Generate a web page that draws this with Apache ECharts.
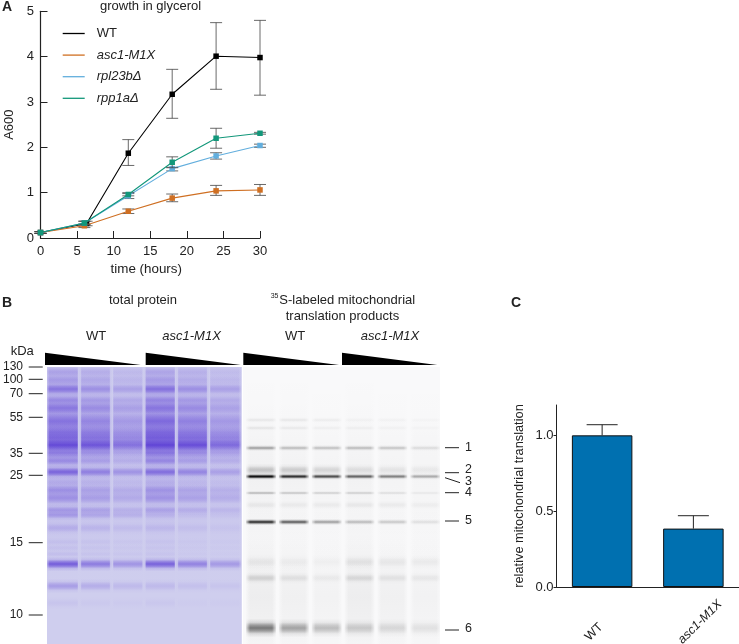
<!DOCTYPE html>
<html><head><meta charset="utf-8">
<style>html,body{margin:0;padding:0;background:#fff}#c{width:739px;height:644px}</style>
<script src="https://cdn.jsdelivr.net/npm/echarts@6/dist/echarts.min.js"></script></head>
<body><div id="c"></div>
<script>
// ---------- panel A data ----------
var hours = [0, 6, 12, 18, 24, 30];
var hoursWt = [0, 6.3, 12, 18, 24, 30];
var wt = [0.12, 0.32, 1.87, 3.17, 4.01, 3.98];
var wtLo = [0.10, 0.27, 1.60, 2.64, 3.28, 3.15];
var wtHi = [0.14, 0.37, 2.17, 3.72, 4.75, 4.80];
var asc = [0.12, 0.27, 0.59, 0.88, 1.04, 1.06];
var ascLo = [0.10, 0.23, 0.54, 0.80, 0.94, 0.94];
var ascHi = [0.14, 0.31, 0.64, 0.97, 1.16, 1.18];
var rpl = [0.12, 0.33, 0.93, 1.53, 1.81, 2.04];
var rplLo = [0.10, 0.29, 0.87, 1.48, 1.74, 2.00];
var rplHi = [0.14, 0.37, 0.98, 1.56, 1.88, 2.07];
var rpp = [0.12, 0.33, 0.96, 1.67, 2.20, 2.31];
var rppLo = [0.10, 0.29, 0.93, 1.55, 1.98, 2.29];
var rppHi = [0.14, 0.37, 1.00, 1.79, 2.42, 2.33];
// ---------- panel C data ----------
var barCats = ['WT', 'asc1-M1X'];
var barVals = [1.0, 0.385];
var barHi = [1.07, 0.47];
// ---------- gel data: migration = px from gel top ----------
var kdaLabels = ['130', '100', '70', '55', '35', '25', '15', '10'];
var kdaPos = [0, 12.3, 26.7, 50.3, 86.3, 108.3, 175.7, 248];
var lanes = ['WT1', 'WT2', 'WT3', 'M1', 'M2', 'M3'];
// total protein: migration, half thickness, strength by lane (first entries are lane smears)
var totPos = [55, 130, 5, 13, 22, 33, 41, 54, 65, 71, 78, 86, 94, 105, 115, 123, 131, 143, 148, 161, 175, 181, 187, 197, 219, 236];
var totHalf = [30, 40, 3.5, 3.5, 3.5, 3, 4, 5.5, 5, 5, 4.2, 4, 3, 3.2, 3, 3.5, 4, 2.5, 2.5, 3, 2, 2, 2, 3.2, 3.2, 3];
var totL1 = [.26, .10, .30, .35, .62, .38, .55, .55, .50, .58, .95, .50, .42, .75, .18, .40, .40, .35, .35, .20, .08, .08, .10, .82, .36, .07];
var totL2 = [.19, .08, .22, .25, .42, .28, .40, .42, .40, .50, .85, .35, .28, .55, .14, .28, .30, .28, .25, .15, .06, .06, .07, .60, .24, .04];
var totL3 = [.12, .06, .14, .16, .30, .20, .28, .30, .28, .35, .62, .22, .18, .40, .10, .20, .22, .18, .18, .10, .04, .04, .05, .42, .15, .03];
var totL4 = [.30, .09, .28, .34, .65, .40, .55, .62, .55, .68, 1.0, .55, .45, .68, .15, .38, .38, .28, .15, .12, .05, .05, .06, .78, .15, .05];
var totL5 = [.21, .07, .20, .22, .42, .28, .40, .45, .42, .55, .92, .38, .28, .50, .10, .26, .28, .20, .08, .08, .03, .03, .03, .55, .10, .02];
var totL6 = [.13, .05, .12, .14, .30, .18, .26, .30, .28, .38, .68, .25, .18, .30, .08, .18, .20, .14, .06, .05, .02, .02, .02, .38, .07, .02];
// radiolabel gel
var radPos = [110, 230, 53, 61, 81, 103, 109.5, 126, 138, 155, 195, 211, 261];
var radHalf = [55, 50, 1.5, 1.5, 1.6, 3.5, 1.7, 1.2, 2.5, 1.7, 4, 3.2, 5];
var radL1 = [.035, .05, .07, .08, .38, .22, 1, .26, .06, .90, .06, .15, .55];
var radL2 = [.03, .04, .07, .06, .26, .18, .85, .20, .05, .68, .04, .09, .36];
var radL3 = [.025, .03, .05, .04, .24, .14, .72, .16, .05, .38, .03, .05, .25];
var radL4 = [.03, .05, .03, .04, .26, .10, .62, .16, .06, .26, .08, .12, .19];
var radL5 = [.025, .04, .03, .03, .22, .08, .50, .10, .05, .20, .06, .08, .13];
var radL6 = [.02, .03, .02, .02, .12, .06, .32, .06, .04, .10, .05, .06, .09];
var radMarkLabels = ['1', '2', '3', '4', '5', '6'];
var radMarkPos = [81, 103, 115, 126, 154, 262];
var radTickPos = [80.7, 105.7, 125.7, 154, 263];

var fontName = '"Liberation Sans", Arial, sans-serif';
var ink = '#222';

function rows(pos, half, ls) {
  var out = [];
  ls.forEach(function (l, li) {
    pos.forEach(function (p, i) { out.push([li, p, half[i], l[i]]); });
  });
  return out;
}
function gelSeries(idx, data, rgb, laneW, spread) {
  return {
    type: 'custom', xAxisIndex: idx, yAxisIndex: idx, silent: true, clip: true, z: 2,
    data: data, encode: { x: 0, y: 1 },
    renderItem: function (params, api) {
      var c = api.coord([api.value(0), api.value(1)]);
      var sy = Math.abs(api.size([0, 1])[1]);
      var h = api.value(2) * sy;
      var a = Math.min(1, api.value(3));
      var col = function (al) { return 'rgba(' + rgb + ',' + al + ')'; };
      return {
        type: 'rect',
        shape: { x: c[0] - laneW / 2, y: c[1] - h * spread, width: laneW, height: h * spread * 2 },
        style: {
          fill: new echarts.graphic.LinearGradient(0, 0, 0, 1, [
            { offset: 0, color: col(0) }, { offset: .2, color: col(a * .2) }, { offset: .35, color: col(a * .7) },
            { offset: .5, color: col(a) }, { offset: .65, color: col(a * .7) }, { offset: .8, color: col(a * .2) },
            { offset: 1, color: col(0) }
          ])
        }
      };
    }
  };
}
function gutterSeries(idx, bg, laneW, f) {
  return {
    type: 'custom', xAxisIndex: idx, yAxisIndex: idx, silent: true, clip: true, z: 3,
    data: lanes.map(function (n, i) { return [i, 0]; }), encode: { x: 0 },
    renderItem: function (params, api) {
      var c = api.coord([api.value(0), 0]);
      var H = params.coordSys.height, T = params.coordSys.y;
      var g = function (x0, x1) { return new echarts.graphic.LinearGradient(x0, 0, x1, 0, [{ offset: 0, color: bg }, { offset: 1, color: bg.replace(',1)', ',0)') }]); };
      return { type: 'group', children: [
        { type: 'rect', shape: { x: c[0] - laneW / 2 - 1, y: T, width: f + 1, height: H }, style: { fill: g(0, 1) } },
        { type: 'rect', shape: { x: c[0] + laneW / 2 - f, y: T, width: f + 1, height: H }, style: { fill: g(1, 0) } }
      ] };
    }
  };
}
function tickSeries(idx, positions, fromX, toX) {
  return {
    type: 'custom', xAxisIndex: idx, yAxisIndex: idx, silent: true, clip: false, z: 5,
    data: positions.map(function (p) { return [0, p]; }), encode: { y: 1 },
    renderItem: function (params, api) {
      var y = api.coord([0, api.value(1)])[1];
      var cs = params.coordSys;
      var base = fromX < 0 ? cs.x : cs.x + cs.width;
      return { type: 'line', shape: { x1: base + fromX, y1: y, x2: base + toX, y2: y }, style: { stroke: '#222', lineWidth: 1 } };
    }
  };
}
function errSeries(xs, lo, hi, capPx, z) {
  return {
    type: 'custom', xAxisIndex: 0, yAxisIndex: 0, silent: true, z: z, clip: false,
    data: xs.map(function (h, i) { return [h, lo[i], hi[i]]; }),
    encode: { x: 0, y: [1, 2] },
    renderItem: function (params, api) {
      var a = api.coord([api.value(0), api.value(1)]), b = api.coord([api.value(0), api.value(2)]);
      var st = { stroke: '#444', lineWidth: .8, fill: null };
      return { type: 'group', children: [
        { type: 'line', shape: { x1: a[0], y1: a[1], x2: b[0], y2: b[1] }, style: st },
        { type: 'line', shape: { x1: a[0] - capPx, y1: a[1], x2: a[0] + capPx, y2: a[1] }, style: st },
        { type: 'line', shape: { x1: b[0] - capPx, y1: b[1], x2: b[0] + capPx, y2: b[1] }, style: st }
      ] };
    }
  };
}
function lineSeries(name, color, xs, vals, z) {
  return { name: name, type: 'line', xAxisIndex: 0, yAxisIndex: 0, z: z, symbol: 'rect', symbolSize: 5.5, clip: false,
    lineStyle: { color: color, width: 1.1 }, itemStyle: { color: color },
    data: xs.map(function (h, i) { return [h, vals[i]]; }) };
}
var cA = '#000', cB = '#cf6f22', cC = '#62aedd', cD = '#12977a';
var cap = 6;
function hiddenAxis(grid, extra) { return Object.assign({ gridIndex: grid, show: false }, extra); }
var totBg = 'rgba(207,206,238,1)', radBg = 'rgba(249,249,250,1)';
var totW = 33, radW = 30;
function T(text, left, top, font) { return { type: 'text', left: left, top: top, z: 20, style: { text: text, font: font || ('13px ' + fontName), fill: ink } }; }

var option = {
  animation: false, backgroundColor: '#fff',
  textStyle: { fontFamily: fontName },
  grid: [
    { left: 40.5, top: 11.3, width: 219.5, height: 226.7 },
    { left: 45, top: 367, width: 196, height: 277, backgroundColor: 'rgb(207,206,238)', show: true, borderWidth: 0 },
    { left: 243, top: 367, width: 197, height: 277, backgroundColor: 'rgb(249,249,250)', show: true, borderWidth: 0 },
    { left: 556.5, top: 405, width: 182.5, height: 182 }
  ],
  legend: {
    left: 57.7, top: 22, orient: 'vertical', itemWidth: 22, itemHeight: 1.3, itemGap: 8.6, icon: 'rect',
    textStyle: { fontSize: 13, color: ink, padding: [0, 0, 0, 7], fontFamily: fontName },
    data: [{ name: 'WT' },
      { name: 'asc1-M1X', textStyle: { fontStyle: 'italic' } },
      { name: 'rpl23b\u0394', textStyle: { fontStyle: 'italic' } },
      { name: 'rpp1a\u0394', textStyle: { fontStyle: 'italic' } }]
  },
  xAxis: [
    { gridIndex: 0, type: 'value', min: 0, max: 30, interval: 5, name: 'time (hours)', nameLocation: 'middle', nameGap: 24.5,
      nameTextStyle: { fontSize: 13.4, color: ink, padding: [0, 8, 0, 0] }, splitLine: { show: false },
      axisLine: { lineStyle: { color: '#222', width: 1.2 }, onZero: false }, axisTick: { inside: true, length: 7, lineStyle: { color: '#222' } },
      axisLabel: { fontSize: 13, color: ink, margin: 7, showMinLabel: true, showMaxLabel: true } },
    hiddenAxis(1, { type: 'value', min: -0.5, max: 5.5 }),
    hiddenAxis(2, { type: 'value', min: -0.55, max: 5.45 }),
    { gridIndex: 3, type: 'category', data: barCats,
      axisLine: { lineStyle: { color: '#222', width: 1 } }, axisTick: { alignWithLabel: true, length: 6, lineStyle: { color: '#222' } },
      axisLabel: { show: false } }
  ],
  yAxis: [
    { gridIndex: 0, type: 'value', min: 0, max: 5, interval: 1, name: 'A600', nameLocation: 'middle', nameGap: 24.5, nameRotate: 90,
      nameTextStyle: { fontSize: 13, color: ink }, splitLine: { show: false },
      axisLine: { show: true, lineStyle: { color: '#222', width: 1.2 } }, axisTick: { show: true, inside: true, length: 7, lineStyle: { color: '#222' } },
      axisLabel: { fontSize: 13, color: ink, margin: 6.5 } },
    { gridIndex: 1, type: 'value', inverse: true, min: 0, max: 277, splitLine: { show: false }, position: 'left',
      axisLine: { show: false }, axisTick: { show: false },
      axisLabel: { show: true, fontSize: 12, color: ink, margin: 24, customValues: kdaPos,
        formatter: function (v) { return kdaLabels[kdaPos.indexOf(v)]; } } },
    { gridIndex: 2, type: 'value', inverse: true, min: 0, max: 277, splitLine: { show: false }, position: 'right',
      axisLine: { show: false }, axisTick: { show: false },
      axisLabel: { show: true, fontSize: 12.5, color: ink, margin: 25, customValues: radMarkPos,
        formatter: function (v) { return radMarkLabels[radMarkPos.indexOf(v)]; } } },
    { gridIndex: 3, type: 'value', min: 0, max: 1.2, interval: 0.5, name: 'relative mitochondrial translation', nameLocation: 'middle', nameGap: 31, nameRotate: 90,
      nameTextStyle: { fontSize: 12.8, color: ink }, splitLine: { show: false },
      axisLine: { show: true, lineStyle: { color: '#222', width: 1 } }, axisTick: { show: true, length: 3, lineStyle: { color: '#222' }, customValues: [0, 0.5, 1] },
      axisLabel: { fontSize: 13, color: ink, margin: 3, customValues: [0, 0.5, 1], formatter: function (v) { return v.toFixed(1); } } }
  ],
  series: [
    errSeries(hoursWt, wtLo, wtHi, cap, 3),
    lineSeries('WT', cA, hoursWt, wt, 4),
    errSeries(hours, ascLo, ascHi, cap, 5),
    lineSeries('asc1-M1X', cB, hours, asc, 6),
    errSeries(hours, rplLo, rplHi, cap, 7),
    lineSeries('rpl23b\u0394', cC, hours, rpl, 8),
    errSeries(hours, rppLo, rppHi, cap, 9),
    lineSeries('rpp1a\u0394', cD, hours, rpp, 10),
    gelSeries(1, rows(totPos, totHalf, [totL1, totL2, totL3, totL4, totL5, totL6]), '96,68,214', totW, 2.3),
    gutterSeries(1, totBg, totW, 3),
    tickSeries(1, kdaPos, -18.3, -4.3),
    gelSeries(2, rows(radPos, radHalf, [radL1, radL2, radL3, radL4, radL5, radL6]), '20,20,20', radW, 1.9),
    gutterSeries(2, radBg, radW, 4),
    tickSeries(2, radTickPos, 5, 19),
    { type: 'bar', xAxisIndex: 3, yAxisIndex: 3, barWidth: 60.5, data: barVals, z: 3,
      itemStyle: { color: '#0070b0', borderColor: '#111', borderWidth: 1 } },
    { type: 'custom', xAxisIndex: 3, yAxisIndex: 3, z: 2, silent: true, clip: false,
      data: barCats.map(function (c, i) { return [i, barVals[i], barHi[i]]; }), encode: { x: 0, y: [1, 2] },
      renderItem: function (p, api) {
        var a = api.coord([api.value(0), api.value(1)]), b = api.coord([api.value(0), api.value(2)]);
        var st = { stroke: '#222', lineWidth: 1, fill: null };
        return { type: 'group', children: [
          { type: 'line', shape: { x1: a[0], y1: a[1], x2: b[0], y2: b[1] }, style: st },
          { type: 'line', shape: { x1: b[0] - 15.5, y1: b[1], x2: b[0] + 15.5, y2: b[1] }, style: st }
        ] };
      } }
  ],
  graphic: [
    T('A', 2, 0, 'bold 14px ' + fontName), T('B', 2, 296, 'bold 14px ' + fontName), T('C', 511, 296, 'bold 14px ' + fontName),
    T('growth in glycerol', 100, 0),
    T('total protein', 109, 293.5),
    T('S-labeled mitochondrial', 279.3, 293.5),
    T('35', 270.7, 293, '7px ' + fontName),
    T('translation products', 285.7, 309.5),
    T('WT', 86, 330), T('asc1-M1X', 162.3, 330, 'italic 13px ' + fontName),
    T('WT', 285, 330), T('asc1-M1X', 360.7, 330, 'italic 13px ' + fontName),
    T('kDa', 10.7, 345),
    { type: 'text', x: 594, y: 632, rotation: Math.PI / 4, z: 20, style: { text: 'WT', font: '12.5px ' + fontName, fill: ink, align: 'center', verticalAlign: 'middle' } },
    { type: 'text', x: 700, y: 622, rotation: Math.PI / 4, z: 20, style: { text: 'asc1-M1X', font: 'italic 12.5px ' + fontName, fill: ink, align: 'center', verticalAlign: 'middle' } },
    { type: 'polygon', shape: { points: [[45, 352.7], [45, 365], [140.7, 365]] }, style: { fill: '#000' } },
    { type: 'polygon', shape: { points: [[145.7, 352.7], [145.7, 365], [240.7, 365]] }, style: { fill: '#000' } },
    { type: 'polygon', shape: { points: [[243.3, 352.7], [243.3, 365], [339, 365]] }, style: { fill: '#000' } },
    { type: 'polygon', shape: { points: [[342, 352.7], [342, 365], [437.3, 365]] }, style: { fill: '#000' } },
    { type: 'line', shape: { x1: 445, y1: 477.7, x2: 460, y2: 482.7 }, style: { stroke: '#222', lineWidth: 1 } }
  ]
};
var chart = echarts.init(document.getElementById('c'), null, { renderer: 'canvas' });
chart.setOption(option);
</script></body></html>
